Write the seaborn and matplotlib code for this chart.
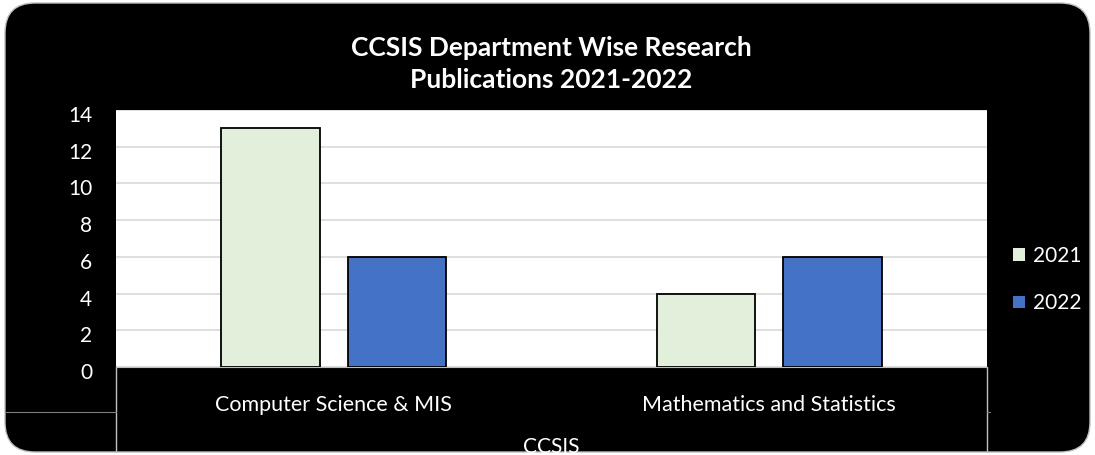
import pandas as pd
import matplotlib
matplotlib.use("Agg")
import matplotlib.pyplot as plt
import seaborn as sns
from matplotlib.patches import FancyBboxPatch
from matplotlib.lines import Line2D
from matplotlib.transforms import ScaledTranslation

# Data
departments = ['Computer Science & MIS', 'Mathematics and Statistics']
pubs_2021 = [13, 4]
pubs_2022 = [6, 6]
years = ['2021', '2022']
year_colors = ['#E2EFDA', '#4472C4']
group_label = 'CCSIS'
title = 'CCSIS Department Wise Research\nPublications 2021-2022'

df = pd.DataFrame({
    'Department': departments * 2,
    'Year': [years[0]] * len(departments) + [years[1]] * len(departments),
    'Publications': pubs_2021 + pubs_2022,
})

sns.set_style('white')
plt.rcParams['font.family'] = ['Lato', 'DejaVu Sans']

W, H = 1095, 455
fig = plt.figure(figsize=(W / 100, H / 100), dpi=100, facecolor='white')

# rounded black background
bg = FancyBboxPatch((5 / 100, 3 / 100), 1085 / 100, 449 / 100,
                    boxstyle='round,pad=0,rounding_size=0.3',
                    transform=fig.dpi_scale_trans, facecolor='black',
                    edgecolor='#BFBFBF', linewidth=1, zorder=-1)
fig.patches.append(bg)

ax_l, ax_r, ax_b, ax_t = 116, 987, 367, 110
ax = fig.add_axes([ax_l / W, (H - ax_b) / H, (ax_r - ax_l) / W, (ax_b - ax_t) / H])
ax.set_zorder(1)
ax.set_facecolor('white')

sns.barplot(data=df, x='Department', y='Publications', hue='Year',
            palette=year_colors, saturation=1, width=0.58, gap=0.22,
            edgecolor='black', linewidth=1.3, ax=ax, zorder=3)

ax.set_ylim(0, 14)
ax.set_yticks(range(0, 15, 2))
ax.yaxis.grid(True, color='#D9D9D9', linewidth=1.2, zorder=0)
ax.set_axisbelow(True)
ax.set_xlabel('')
ax.set_ylabel('')
for s in ['top', 'left', 'right']:
    ax.spines[s].set_visible(False)
ax.spines['bottom'].set_color('#BFBFBF')
ax.tick_params(axis='y', length=0, pad=17, labelsize=15, labelcolor='white')
ax.tick_params(axis='x', length=0, pad=20, labelsize=15.5, labelcolor='white')

# y labels sit a little below their gridlines in the original
shift = ScaledTranslation(0, -4 / 100, fig.dpi_scale_trans)
for lab in ax.get_yticklabels():
    lab.set_transform(lab.get_transform() + shift)

sns.move_legend(ax, 'center left', bbox_to_anchor=(1.03, 0.34), frameon=False,
                title=None, fontsize=15, labelcolor='white', borderpad=0,
                borderaxespad=0, handlelength=0.55, handleheight=0.55,
                handletextpad=0.4, labelspacing=1.3)
for h in ax.get_legend().legend_handles:
    h.set_edgecolor('none')

# multi-level category box below the axis
for x in (ax_l, ax_r):
    fig.add_artist(Line2D([x / W, x / W], [(H - ax_b) / H, (H - 452) / H],
                          color='#BFBFBF', linewidth=1))
fig.add_artist(Line2D([5 / W, ax_l / W], [(H - 412) / H] * 2, color='#7F7F7F', linewidth=0.8))
fig.add_artist(Line2D([ax_r / W, 990 / W], [(H - 412) / H] * 2, color='#7F7F7F', linewidth=0.8))

grp = fig.text((ax_l + ax_r) / 2 / W, (H - 447) / H, group_label, color='white',
               fontsize=15, ha='center', va='center')
grp.set_clip_path(bg)

fig.text(551 / W, (H - 64) / H, title, color='white', fontsize=19,
         fontweight='bold', ha='center', va='center', linespacing=1.42)

fig.savefig('out.png', dpi=100, facecolor='white')
